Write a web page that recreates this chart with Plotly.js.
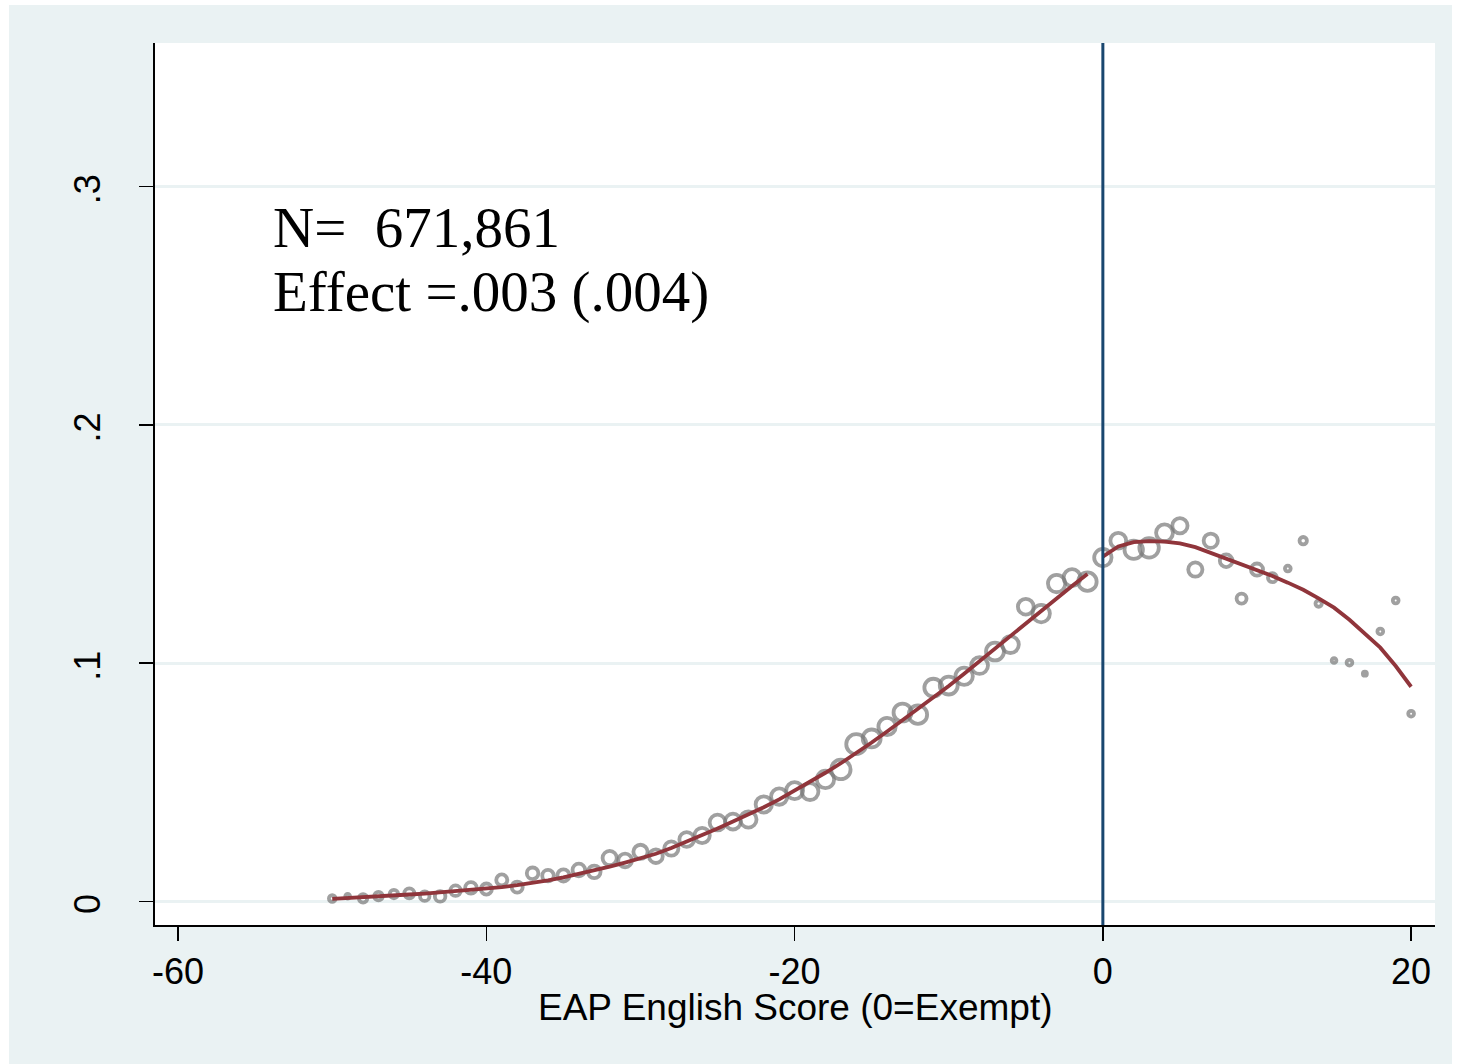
<!DOCTYPE html>
<html>
<head>
<meta charset="utf-8">
<script src="https://cdn.plot.ly/plotly-3.0.1.min.js"></script>
<style>
  html, body { margin: 0; padding: 0; background: #ffffff; }
  #chart { position: absolute; left: 9px; top: 5px; width: 1443px; height: 1059px; }
</style>
</head>
<body>
<div id="chart"></div>
<script>
// EAP English score relative to the exemption cutoff
const score = [-50, -49, -48, -47, -46, -45, -44, -43, -42, -41,
               -40, -39, -38, -37, -36, -35, -34, -33, -32, -31,
               -30, -29, -28, -27, -26, -25, -24, -23, -22, -21,
               -20, -19, -18, -17, -16, -15, -14, -13, -12, -11,
               -10, -9, -8, -7, -6, -5, -4, -3, -2, -1,
               0, 1, 2, 3, 4, 5, 6, 7, 8, 9,
               10, 11, 12, 13, 14, 15, 16, 17, 18, 19, 20];

// Outcome mean within each score bin
const binMean = [.0012, .0022, .0013, .0022, .0031, .0034, .0022, .0021, .0045, .0057,
                 .0052, .0090, .0060, .0118, .0108, .0109, .0132, .0124, .0182, .0172,
                 .0208, .0190, .0222, .0260, .0277, .0331, .0335, .0344, .0407, .0440,
                 .0465, .0461, .0512, .0554, .0660, .0684, .0734, .0793, .0784, .0897,
                 .0906, .0945, .0990, .1049, .1078, .1237, .1208, .1334, .1359, .1342,
                 .1443, .1514, .1476, .1484, .1547, .1577, .1393, .1514, .1430, .1271,
                 .1393, .1359, .1397, .1514, .1250, .1011, .1002, .0956, .1133, .1263, .0788];

// Number of students in each score bin (marker area weight)
const binCount = [2140, 1090, 3440, 3440, 3440, 4860, 4360, 5380, 5380, 6510,
                  5920, 5920, 5920, 6510, 6510, 7100, 7750, 7750, 9790, 9090,
                  9790, 9090, 9790, 10540, 11300, 12100, 12100, 12910, 12910, 12910,
                  13770, 13770, 14630, 18400, 19420, 15550, 14630, 15550, 16460, 15550,
                  15550, 14630, 13770, 15550, 13770, 12100, 14630, 14630, 13770, 16460,
                  14630, 12100, 16460, 18400, 13770, 11300, 9790, 9790, 7750, 4840,
                  7100, 3870, 1610, 2640, 1940, 1080, 1610, 320, 1610, 1610, 1610];

// Fitted values below the cutoff
const fitLeftX = [-50, -49, -48, -47, -46, -45, -44, -43, -42, -41,
                  -40, -39, -38, -37, -36, -35, -34, -33, -32, -31,
                  -30, -29, -28, -27, -26, -25, -24, -23, -22, -21,
                  -20, -19, -18, -17, -16, -15, -14, -13, -12, -11,
                  -10, -9, -8, -7, -6, -5, -4, -3, -2, -1];
const fitLeftY = [.0011, .0014, .0017, .0020, .0024, .0029, .0033, .0038, .0043, .0048,
                  .0053, .0060, .0068, .0077, .0088, .0101, .0115, .0130, .0146, .0163,
                  .0181, .0200, .0224, .0250, .0277, .0306, .0335, .0364, .0395, .0428,
                  .0464, .0501, .0540, .0580, .0622, .0667, .0713, .0760, .0807, .0855,
                  .0904, .0956, .1009, .1062, .1116, .1169, .1221, .1273, .1324, .1374];

// Fitted values at and above the cutoff
const fitRightX = [0, 1, 2, 3, 4, 5, 6, 7, 8, 9, 10, 11, 12, 13, 14, 15, 16, 17, 18, 19, 20];
const fitRightY = [.1447, .1490, .1508, .1512, .1510, .1503, .1487, .1463, .1438, .1414,
                   .1392, .1366, .1338, .1308, .1272, .1233, .1182, .1126, .1065, .0988, .0901];

const cutoff = 0;

const xTickVals = [-60, -40, -20, 0, 20];
const xTickText = ['-60', '-40', '-20', '0', '20'];
const yTickVals = [0, 0.1, 0.2, 0.3];
const yTickText = ['0', '.1', '.2', '.3'];

const xTitle = 'EAP English Score (0=Exempt)';
const noteLines = ['N=\u00a0 671,861', 'Effect =.003 (.004)'];

const sans = 'Liberation Sans, Arial, Helvetica, sans-serif';
const serif = 'Liberation Serif, Times New Roman, serif';
const maxMarkerPx = 20;

const traces = [
  {
    type: 'scatter', mode: 'markers', x: score, y: binMean,
    marker: {
      symbol: 'circle',
      size: binCount,
      sizemode: 'area',
      sizeref: 2 * Math.max(...binCount) / (maxMarkerPx * maxMarkerPx),
      sizemin: 2,
      color: 'rgba(0,0,0,0)',
      line: { color: '#787878', width: 3.8 }
    },
    hoverinfo: 'x+y'
  },
  {
    type: 'scatter', mode: 'lines', x: fitLeftX, y: fitLeftY,
    line: { color: '#90353b', width: 3.8 }
  },
  {
    type: 'scatter', mode: 'lines', x: fitRightX, y: fitRightY,
    line: { color: '#90353b', width: 3.8 }
  }
];

const layout = {
  width: 1443, height: 1059,
  paper_bgcolor: '#eaf2f3',
  plot_bgcolor: '#ffffff',
  margin: { l: 146, r: 17, t: 38, b: 139 },
  showlegend: false,
  xaxis: {
    range: [-61.5, 21.55],
    tickmode: 'array', tickvals: xTickVals, ticktext: xTickText,
    ticks: 'outside', ticklen: 14, tickwidth: 1.5, tickcolor: '#000',
    showline: true, linecolor: '#000', linewidth: 1.8,
    showgrid: false, zeroline: false,
    tickfont: { family: sans, size: 36, color: '#000' }
  },
  yaxis: {
    range: [-0.0099, 0.3603],
    tickmode: 'array', tickvals: yTickVals, ticktext: yTickText,
    tickangle: -90,
    ticks: 'outside', ticklen: 14, tickwidth: 1.5, tickcolor: '#000',
    ticklabelstandoff: 25,
    ticklabelshift: 8,
    showline: true, linecolor: '#000', linewidth: 1.8,
    showgrid: true, gridcolor: '#eaf2f3', gridwidth: 3, zeroline: false,
    tickfont: { family: sans, size: 36, color: '#000' }
  },
  shapes: [
    {
      type: 'line', xref: 'x', yref: 'paper', x0: cutoff, x1: cutoff, y0: 0, y1: 1,
      line: { color: '#1a476f', width: 3 }, layer: 'above'
    }
  ],
  annotations: [
    {
      text: xTitle, xref: 'paper', yref: 'paper', x: 0.5, y: -0.093,
      xanchor: 'center', yanchor: 'middle', showarrow: false,
      font: { family: sans, size: 37, color: '#000' }
    },
    {
      text: noteLines[0], xref: 'x', yref: 'y', x: -54, y: 0.2827,
      xanchor: 'left', yanchor: 'middle', showarrow: false,
      font: { family: serif, size: 57, color: '#000' }
    },
    {
      text: noteLines[1], xref: 'x', yref: 'y', x: -54, y: 0.2557,
      xanchor: 'left', yanchor: 'middle', showarrow: false,
      font: { family: serif, size: 57, color: '#000' }
    }
  ]
};

Plotly.newPlot('chart', traces, layout, { displayModeBar: false, staticPlot: true });
</script>
</body>
</html>
